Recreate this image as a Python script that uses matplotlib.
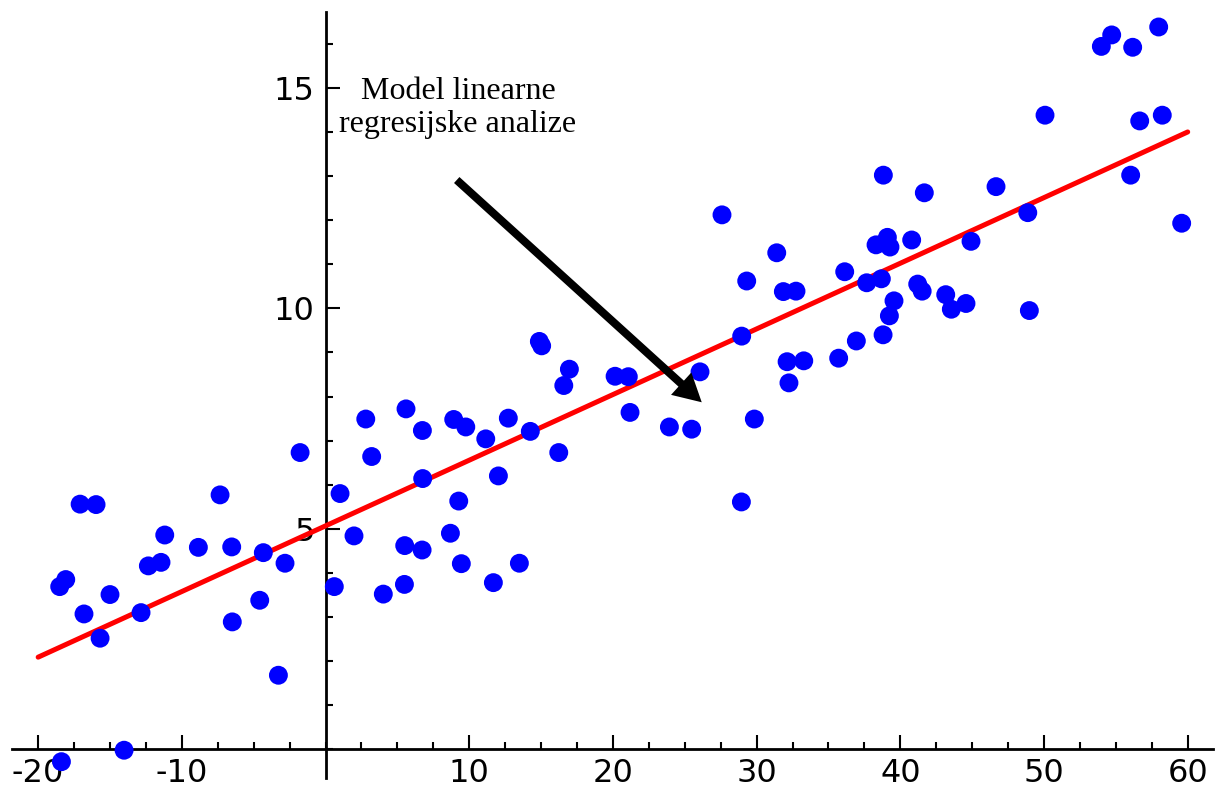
import matplotlib
matplotlib.use("Agg")
import matplotlib.pyplot as plt
from matplotlib.ticker import FixedLocator, MultipleLocator

# data points (x, y)
x_vals = [-1.77, -7.34, -17.08, -15.97, -11.19, -8.85, -6.53, -4.33, -2.82, -12.33,
          -11.45, -18.08, -18.50, -15.0, -16.81, -12.84, -15.69, -4.58, -6.49, -3.28,
          -14.02, -18.38, 0.61, 1.01, 1.98, 4.02, 2.80, 3.21, 5.60, 6.74,
          6.76, 5.51, 6.72, 5.49, 8.92, 9.76, 11.15, 12.72, 14.25, 12.03,
          9.27, 8.69, 9.45, 11.68, 13.49, 14.88, 15.04, 16.97, 16.58, 16.23,
          20.15, 21.07, 21.19, 27.59, 31.40, 29.31, 31.86, 32.74, 36.13, 37.66,
          38.68, 38.31, 39.10, 39.28, 40.79, 38.82, 41.67, 28.96, 39.56, 39.24,
          38.80, 36.94, 35.71, 32.12, 33.28, 32.25, 26.06, 23.93, 25.48, 29.84,
          28.94, 57.98, 54.71, 53.99, 56.17, 50.07, 58.23, 56.66, 56.03, 59.58,
          46.66, 48.87, 44.92, 41.21, 41.52, 43.16, 43.55, 44.57, 48.98]
y_vals = [6.73, 5.77, 5.56, 5.55, 4.86, 4.58, 4.59, 4.46, 4.22, 4.16,
          4.24, 3.85, 3.69, 3.51, 3.07, 3.10, 2.52, 3.38, 2.89, 1.68,
          -0.02, -0.28, 3.69, 5.80, 4.84, 3.52, 7.49, 6.64, 7.72, 7.23,
          6.14, 4.62, 4.52, 3.74, 7.48, 7.31, 7.04, 7.51, 7.21, 6.20,
          5.63, 4.90, 4.21, 3.78, 4.22, 9.25, 9.15, 8.62, 8.25, 6.73,
          8.46, 8.45, 7.64, 12.12, 11.26, 10.62, 10.38, 10.39, 10.83, 10.58,
          10.67, 11.44, 11.61, 11.39, 11.55, 13.02, 12.62, 9.37, 10.17, 9.83,
          9.40, 9.26, 8.87, 8.79, 8.81, 8.31, 8.56, 7.31, 7.26, 7.49,
          5.61, 16.38, 16.20, 15.94, 15.92, 14.38, 14.38, 14.25, 13.02, 11.93,
          12.76, 12.17, 11.52, 10.55, 10.39, 10.31, 9.98, 10.11, 9.95]

# regression line endpoints
fit_x = [-20, 60]
fit_y = [2.09, 14.0]

x_major = [-20, -10, 10, 20, 30, 40, 50, 60]
x_labels = ["-20", "-10", "10", "20", "30", "40", "50", "60"]
y_major = [5, 10, 15]
y_labels = ["5", "10", "15"]

annot_text = "Model linearne\nregresijske analize"
arrow_start = (9.13, 12.91)
arrow_tip = (26.18, 7.87)

fig = plt.figure(figsize=(12.24, 7.96), dpi=100)
ax = fig.add_axes([12/1224, 18/796, (1213-12)/1224, (778-12)/796])

ax.plot(fit_x, fit_y, color="#ff0000", lw=3.6, solid_capstyle="round", zorder=3)
ax.scatter(x_vals, y_vals, s=185, color="#0000ff", edgecolors="none", zorder=4, clip_on=False)

ax.set_xlim(-21.82, 61.76)
ax.set_ylim(-0.65, 16.72)

for s in ["top", "right"]:
    ax.spines[s].set_visible(False)
ax.spines["left"].set_position(("data", 0))
ax.spines["bottom"].set_position(("data", 0))
for s in ["left", "bottom"]:
    ax.spines[s].set_linewidth(2)
    ax.spines[s].set_color("black")

ax.xaxis.set_major_locator(FixedLocator(x_major))
ax.set_xticklabels(x_labels)
ax.xaxis.set_minor_locator(MultipleLocator(2.5))
ax.yaxis.set_major_locator(FixedLocator(y_major))
ax.set_yticklabels(y_labels)
ax.yaxis.set_minor_locator(MultipleLocator(1))

ax.tick_params(axis="both", which="major", direction="in", length=10, width=1.5,
               labelsize=23, colors="black")
ax.tick_params(axis="both", which="minor", direction="in", length=5, width=1.5)
ax.tick_params(axis="x", which="major", pad=6)
ax.tick_params(axis="y", which="major", pad=8)

ax.annotate("", xy=arrow_tip, xytext=arrow_start,
            arrowprops=dict(arrowstyle="-|>,head_length=0.55,head_width=0.3",
                            color="black", lw=5.8, mutation_scale=20,
                            shrinkA=0, shrinkB=0, capstyle="butt", joinstyle="miter"),
            zorder=5)

ax.text(9.22, 14.54, annot_text, ha="center", va="center", fontsize=23,
        family=["Liberation Serif", "DejaVu Serif"], linespacing=1.15, zorder=6)

fig.savefig("out.png", dpi=100, facecolor="white")
